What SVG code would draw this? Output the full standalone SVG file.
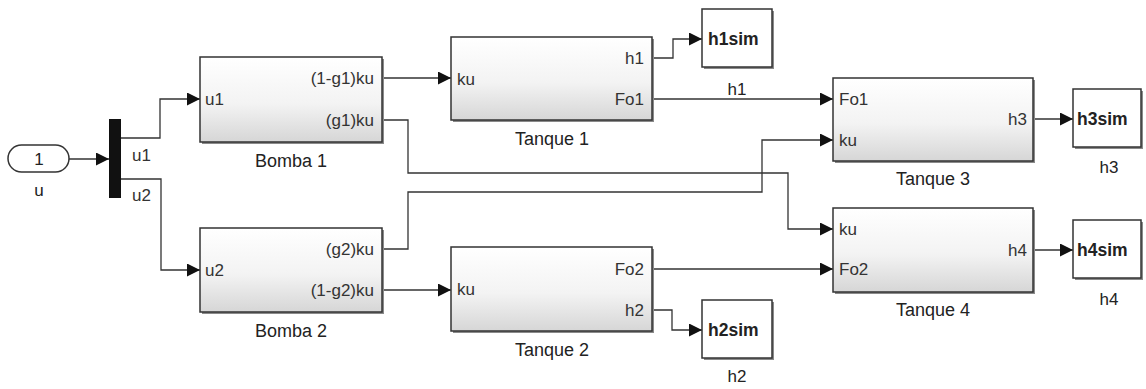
<svg xmlns="http://www.w3.org/2000/svg" width="1146" height="389" viewBox="0 0 1146 389">
<defs>
<linearGradient id="g" x1="0" y1="0" x2="0" y2="1">
<stop offset="0" stop-color="#ffffff"/>
<stop offset="0.55" stop-color="#f3f3f3"/>
<stop offset="1" stop-color="#d6d6d6"/>
</linearGradient>
<marker id="a" viewBox="0 0 13 13" refX="13" refY="6.5" markerWidth="13" markerHeight="13" markerUnits="userSpaceOnUse" orient="auto">
<path d="M0,0 L13,6.5 L0,13 Z" fill="#111"/>
</marker>
</defs>
<style>
.blk{fill:url(#g);stroke:#333;stroke-width:1.5}
.sink{fill:#fff;stroke:#333;stroke-width:1.5}
.sh{fill:#8a8a8a}
.w{fill:none;stroke:#333;stroke-width:1.3;marker-end:url(#a)}
text{font-family:"Liberation Sans",Arial,sans-serif;fill:#222}
.p{font-size:17px;fill:#333}
.pr{font-size:17px;fill:#333;text-anchor:end}
.n{font-size:18px;text-anchor:middle}
.s{font-size:17.5px;font-weight:bold}
.l{font-size:17px;text-anchor:middle}
</style>
<rect width="1146" height="389" fill="#fff"/>
<g id="connectors">
<path class="w" d="M69,159 H109"/>
<path class="w" d="M121,138 H160 V99 H200"/>
<path class="w" d="M121,179 H161 V270 H200"/>
<path class="w" d="M382,78 H451"/>
<path class="w" d="M382,120 H408 V173 H788 V229 H833"/>
<path class="w" d="M382,249 H408 V192 H762 V140 H833"/>
<path class="w" d="M382,290 H451"/>
<path class="w" d="M652,58 H673 V39 H702"/>
<path class="w" d="M652,99 H833"/>
<path class="w" d="M652,269 H833"/>
<path class="w" d="M652,310 H672 V330 H702"/>
<path class="w" d="M1033,119 H1073"/>
<path class="w" d="M1033,250 H1073"/>
</g>
<g id="inport_u">
<rect x="8" y="145" width="61" height="27" rx="13.5" fill="#fff" stroke="#333" stroke-width="1.5"/>
<text class="l" x="39" y="165">1</text>
<text class="l" x="39" y="196">u</text>
</g>
<g id="mux">
<rect x="109" y="119" width="12" height="79" fill="#111"/>
<text class="p" x="132" y="161">u1</text>
<text class="p" x="132" y="201">u2</text>
</g>
<g id="bomba1">
<rect class="sh" x="202" y="59" width="182" height="85"/>
<rect class="blk" x="200" y="57" width="182" height="85"/>
<text class="p" x="205" y="105">u1</text>
<text class="pr" x="374" y="84">(1-g1)ku</text>
<text class="pr" x="374" y="126">(g1)ku</text>
<text class="n" x="291" y="167">Bomba 1</text>
</g>
<g id="bomba2">
<rect class="sh" x="202" y="230" width="182" height="84"/>
<rect class="blk" x="200" y="228" width="182" height="84"/>
<text class="p" x="205" y="276">u2</text>
<text class="pr" x="374" y="255">(g2)ku</text>
<text class="pr" x="374" y="296">(1-g2)ku</text>
<text class="n" x="291" y="337">Bomba 2</text>
</g>
<g id="tanque1">
<rect class="sh" x="453" y="39" width="201" height="83"/>
<rect class="blk" x="451" y="37" width="201" height="83"/>
<text class="p" x="457" y="85">ku</text>
<text class="pr" x="644" y="64">h1</text>
<text class="pr" x="644" y="105">Fo1</text>
<text class="n" x="552" y="145">Tanque 1</text>
</g>
<g id="tanque2">
<rect class="sh" x="453" y="249" width="201" height="84"/>
<rect class="blk" x="451" y="247" width="201" height="84"/>
<text class="p" x="457" y="295">ku</text>
<text class="pr" x="644" y="275">Fo2</text>
<text class="pr" x="644" y="316">h2</text>
<text class="n" x="552" y="356">Tanque 2</text>
</g>
<g id="tanque3">
<rect class="sh" x="835" y="80" width="200" height="83"/>
<rect class="blk" x="833" y="78" width="200" height="83"/>
<text class="p" x="839" y="105">Fo1</text>
<text class="p" x="839" y="146">ku</text>
<text class="pr" x="1027" y="125">h3</text>
<text class="n" x="933" y="185">Tanque 3</text>
</g>
<g id="tanque4">
<rect class="sh" x="835" y="210" width="200" height="84"/>
<rect class="blk" x="833" y="208" width="200" height="84"/>
<text class="p" x="839" y="235">ku</text>
<text class="p" x="839" y="275">Fo2</text>
<text class="pr" x="1027" y="256">h4</text>
<text class="n" x="933" y="316">Tanque 4</text>
</g>
<g id="h1sim">
<rect class="sh" x="704" y="11" width="70" height="58"/>
<rect class="sink" x="702" y="9" width="70" height="58"/>
<text class="s" x="708" y="45">h1sim</text>
<text class="l" x="737" y="95">h1</text>
</g>
<g id="h2sim">
<rect class="sh" x="704" y="302" width="70" height="58"/>
<rect class="sink" x="702" y="300" width="70" height="58"/>
<text class="s" x="708" y="336">h2sim</text>
<text class="l" x="737" y="382">h2</text>
</g>
<g id="h3sim">
<rect class="sh" x="1075" y="91" width="68" height="58"/>
<rect class="sink" x="1073" y="89" width="68" height="58"/>
<text class="s" x="1077" y="125">h3sim</text>
<text class="l" x="1109" y="173">h3</text>
</g>
<g id="h4sim">
<rect class="sh" x="1075" y="222" width="68" height="58"/>
<rect class="sink" x="1073" y="220" width="68" height="58"/>
<text class="s" x="1077" y="256">h4sim</text>
<text class="l" x="1109" y="305">h4</text>
</g>
</svg>
